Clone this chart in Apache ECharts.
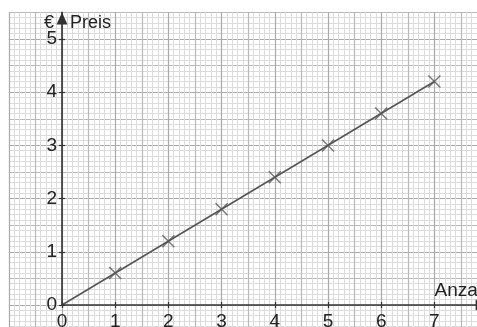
<!DOCTYPE html>
<html>
<head>
<meta charset="utf-8">
<script src="https://cdn.jsdelivr.net/npm/echarts@6/dist/echarts.min.js"></script>
<style>
  html, body { margin: 0; padding: 0; background: #fff; }
  #chart { width: 477px; height: 327px; }
</style>
</head>
<body>
<div id="chart"></div>
<script>
// Anzahl (count) and Preis (price in €)
const anzahl = [1, 2, 3, 4, 5, 6, 7];
const preis = [0.6, 1.2, 1.8, 2.4, 3.0, 3.6, 4.2];
// straight line through the origin
const lineAnzahl = [0, 7];
const linePreis = [0, 4.2];
// labelled ticks
const xTickValues = [0, 1, 2, 3, 4, 5, 6, 7];
const yTickValues = [0, 1, 2, 3, 4, 5];

const FONT = "'Liberation Sans Narrow', 'Liberation Sans', Arial, sans-serif";
const AXIS_COLOR = '#333';
const TEXT_COLOR = '#222';

const chart = echarts.init(document.getElementById('chart'), null, { renderer: 'canvas' });

// Grid paper: lines every 0.5 and minor lines every 0.1
function paperAxis(dim) {
  const isX = dim === 'x';
  return {
    type: 'value',
    gridIndex: 0,
    min: isX ? -1 : -0.5,
    max: isX ? 8 : 5.5,
    interval: 0.5,
    position: isX ? 'bottom' : 'left',
    axisLine: { show: false },
    axisTick: { show: false },
    axisLabel: { show: false },
    minorTick: { show: false, splitNumber: 5 },
    splitLine: {
      show: true,
      showMinLine: true,
      showMaxLine: true,
      lineStyle: { color: isX ? ['#a9a9a9', '#b9b9b9'] : ['#b9b9b9', '#a9a9a9'], width: 1.2 }
    },
    minorSplitLine: { show: true, lineStyle: { color: '#dcdcdc', width: 1 } },
    z: 0
  };
}

// Coordinate axes starting at the origin
function mainAxis(dim, inside, withLabels) {
  const isX = dim === 'x';
  const vals = isX ? xTickValues : yTickValues;
  return {
    type: 'value',
    gridIndex: 1,
    min: 0,
    max: isX ? 8 : 5.5,
    interval: 0.5,
    position: isX ? 'bottom' : 'left',
    axisLine: {
      show: withLabels,
      onZero: false,
      symbol: ['none', 'triangle'],
      symbolSize: [11, 12],
      symbolOffset: [0, -6],
      lineStyle: { color: AXIS_COLOR, width: 1.6 }
    },
    axisTick: {
      show: true,
      inside: inside,
      length: 3,
      customValues: vals,
      lineStyle: { color: AXIS_COLOR, width: 1.2 }
    },
    axisLabel: {
      show: withLabels,
      customValues: vals,
      margin: isX ? 7 : 5,
      color: TEXT_COLOR,
      fontFamily: FONT,
      fontSize: 19,
      formatter: function (v) { return String(v); }
    },
    splitLine: { show: false },
    z: 5
  };
}

const xMain = mainAxis('x', false, true);
xMain.name = 'Anzahl';
xMain.nameLocation = 'end';
xMain.nameGap = -53;
xMain.nameTextStyle = {
  fontFamily: FONT, fontSize: 19, color: TEXT_COLOR,
  align: 'left', verticalAlign: 'bottom', padding: [0, 0, 5, 0]
};

const yMain = mainAxis('y', false, true);
yMain.name = 'Preis';
yMain.nameLocation = 'end';
yMain.nameGap = -2;
yMain.nameTextStyle = {
  fontFamily: FONT, fontSize: 18, color: TEXT_COLOR,
  align: 'left', verticalAlign: 'top', padding: [0, 0, 0, 8]
};

const yInner = mainAxis('y', true, false);
yInner.name = '€';
yInner.nameLocation = 'end';
yInner.nameGap = -2;
yInner.nameTextStyle = {
  fontFamily: FONT, fontSize: 18, color: TEXT_COLOR,
  align: 'right', verticalAlign: 'top', padding: [0, 8, 0, 0]
};

const option = {
  animation: false,
  backgroundColor: '#fff',
  grid: [
    { left: 8.8, right: -10.6, top: 12.4, bottom: -4.6, outerBoundsMode: 'none' },
    { left: 62, right: -10.6, top: 12.4, bottom: 22, outerBoundsMode: 'none' }
  ],
  xAxis: [paperAxis('x'), xMain, mainAxis('x', true, false)],
  yAxis: [paperAxis('y'), yMain, yInner],
  series: [
    {
      type: 'line',
      xAxisIndex: 1,
      yAxisIndex: 1,
      data: lineAnzahl.map((x, i) => [x, linePreis[i]]),
      showSymbol: false,
      lineStyle: { color: '#555', width: 1.6 },
      z: 3
    },
    {
      type: 'scatter',
      xAxisIndex: 1,
      yAxisIndex: 1,
      data: anzahl.map((x, i) => [x, preis[i]]),
      symbol: 'path://M0,0L10,10M10,0L0,10',
      symbolSize: 12,
      itemStyle: { color: 'transparent', borderColor: '#555', borderWidth: 1.4 },
      z: 4
    }
  ]
};

chart.setOption(option);
</script>
</body>
</html>
